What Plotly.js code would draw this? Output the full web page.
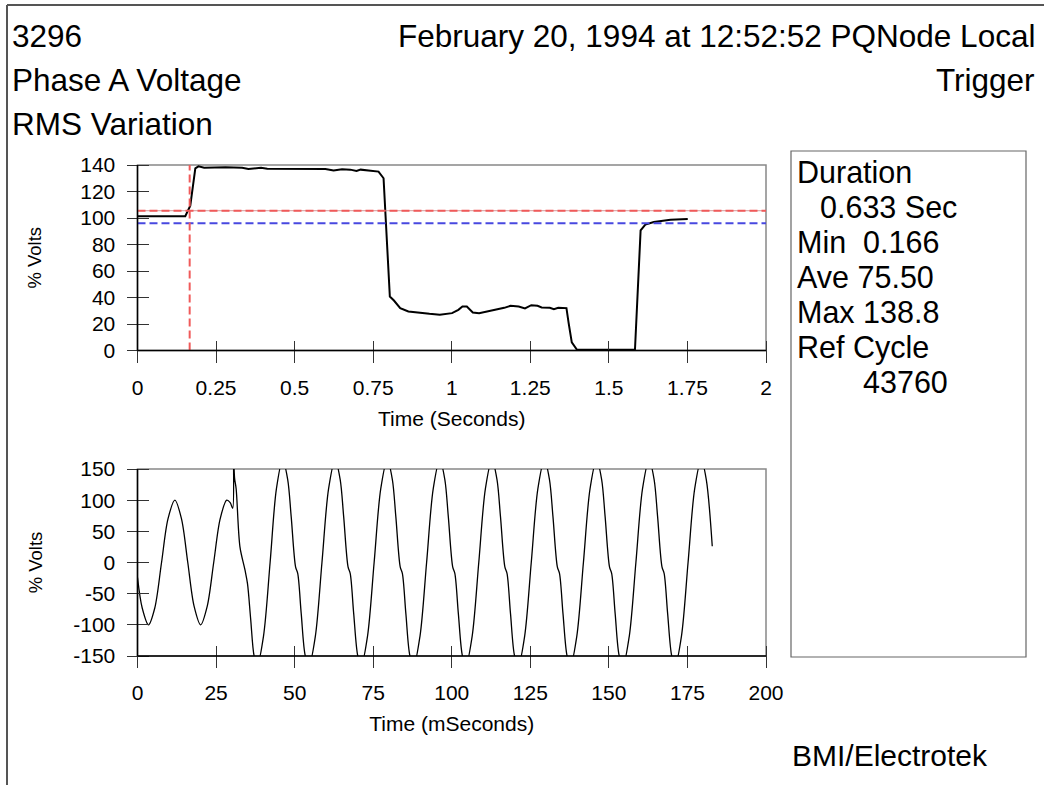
<!DOCTYPE html>
<html><head><meta charset="utf-8">
<script src="https://cdn.plot.ly/plotly-3.0.1.min.js"></script>
<style>html,body{margin:0;padding:0;background:#fff;}#chart{width:1044px;height:785px;}</style>
</head><body><div id="chart"></div>
<script>
// ---- data ----
const rmsTime = [0, 0.152, 0.168, 0.184, 0.194, 0.212, 0.28, 0.333, 0.353, 0.373, 0.393, 0.413, 0.505, 0.598, 0.624, 0.651, 0.677, 0.697, 0.71, 0.737, 0.767, 0.783, 0.803, 0.816, 0.836, 0.862, 0.902, 0.929, 0.962, 1.001, 1.021, 1.034, 1.048, 1.067, 1.087, 1.114, 1.14, 1.167, 1.187, 1.213, 1.233, 1.253, 1.273, 1.286, 1.312, 1.325, 1.339, 1.365, 1.372, 1.382, 1.398, 1.431, 1.583, 1.601, 1.616, 1.643, 1.696, 1.751];
const rmsVolts = [101.3, 101.3, 109.3, 137.5, 139, 138, 138.3, 138, 137, 137.5, 138, 137.2, 137.2, 137, 135.8, 136.8, 136.5, 135.5, 136.5, 136, 135, 130, 40.7, 37.7, 32, 29.5, 28.2, 27.7, 27, 28.2, 30.7, 33.2, 33.2, 28.7, 28.2, 29.5, 31.2, 32.2, 33.7, 33.2, 31.7, 34.2, 33.7, 32.5, 32.2, 31.2, 32.2, 32, 20.7, 6.2, 0.7, 0.5, 0.5, 90.6, 95, 97, 98.6, 99.3];

const waveTime = [0, 1.5, 3.5, 5.5, 7.65, 9.7, 11.9, 14.0, 16.0, 18.0, 20.1, 22.2, 24.25, 26.3, 28.4, 29.5, 30.3, 30.6, 30.9, 31.4, 32.6, 34.2, 35.0, 36.0, 37.1, 38.1,
  40.1, 42.2, 44.2, 46.2, 47.8, 48.9, 50.3, 51.0, 52.1, 53.4, 54.6,
  56.6, 58.7, 60.8, 62.9, 64.5, 65.6, 67.0, 67.7, 68.8, 70.1, 71.2,
  73.2, 75.3, 77.4, 79.5, 81.1, 82.2, 83.6, 84.3, 85.4, 86.7, 87.9,
  89.9, 92.0, 94.1, 96.2, 97.8, 98.9, 100.3, 101.0, 102.1, 103.4, 104.5,
  106.5, 108.6, 110.7, 112.8, 114.4, 115.5, 116.9, 117.6, 118.7, 120.0, 121.2,
  123.2, 125.3, 127.4, 129.5, 131.1, 132.2, 133.6, 134.3, 135.4, 136.7, 137.8,
  139.8, 141.9, 144.0, 146.1, 147.7, 148.8, 150.2, 150.9, 152.0, 153.3, 154.5,
  156.5, 158.6, 160.7, 162.8, 164.4, 165.5, 166.9, 167.6, 168.7, 170.0, 171.1,
  173.1, 175.2, 177.3, 179.4, 181.0, 182.9];
const waveVolts = [-24, -73, -100, -73, 0, 70, 100, 70, 0, -70, -100, -70, 0, 70, 100, 96, 87, 165, 135, 118, 25, -12, -34, -90, -150, -165,
  -118, 0, 118, 165, 133, 74, -7, -18, -82, -150, -165,
  -118, 0, 118, 165, 133, 74, -7, -18, -82, -150, -165,
  -118, 0, 118, 165, 133, 74, -7, -18, -82, -150, -165,
  -118, 0, 118, 165, 133, 74, -7, -18, -82, -150, -165,
  -118, 0, 118, 165, 133, 74, -7, -18, -82, -150, -165,
  -118, 0, 118, 165, 133, 74, -7, -18, -82, -150, -165,
  -118, 0, 118, 165, 133, 74, -7, -18, -82, -150, -165,
  -118, 0, 118, 165, 133, 74, -7, -18, -82, -150, -165,
  -118, 0, 118, 165, 133, 26];

const thresholdHigh = 105.5;
const thresholdLow = 96;
const triggerTime = 0.166;

const topXTicks = [0, 0.25, 0.5, 0.75, 1, 1.25, 1.5, 1.75, 2];
const topXLabels = ['0', '0.25', '0.5', '0.75', '1', '1.25', '1.5', '1.75', '2'];
const topYTicks = [0, 20, 40, 60, 80, 100, 120, 140];
const topYLabels = ['0', '20', '40', '60', '80', '100', '120', '140'];
const botXTicks = [0, 25, 50, 75, 100, 125, 150, 175, 200];
const botXLabels = ['0', '25', '50', '75', '100', '125', '150', '175', '200'];
const botYTicks = [-150, -100, -50, 0, 50, 100, 150];
const botYLabels = ['-150', '-100', '-50', '0', '50', '100', '150'];

const headerLeft = ['3296', 'Phase A Voltage', 'RMS Variation'];
const headerRight = ['February 20, 1994 at 12:52:52 PQNode Local', 'Trigger'];
const infoLines = ['Duration', '0.633 Sec', 'Min\u00a0\u00a00.166', 'Ave 75.50', 'Max 138.8', 'Ref Cycle', '43760'];
const footer = 'BMI/Electrotek';

// ---- layout helpers ----
const W = 1044, H = 785;
const px = v => v / W;
const py = v => 1 - v / H;
const FONT = '"Liberation Sans", Arial, Helvetica, sans-serif';
const TICK_HALF = 11;   // ticks cross the axis line, half of the length on each side

const xDom = [px(137.5), px(766)];
const topDom = [py(350.5), py(165)];
const botDom = [py(656), py(469)];

// axes are placed half a tick inside the plot so their outside ticks cross the frame line
function xAxis(extra, yDomain) {
  return Object.assign({
    showgrid: false, zeroline: false, showline: false,
    anchor: 'free', position: yDomain[0] + TICK_HALF / H,
    ticks: 'outside', ticklen: 2 * TICK_HALF, tickwidth: 1, tickcolor: '#333',
    tickfont: {family: FONT, size: 21, color: '#000'},
    tickmode: 'array', fixedrange: true, ticklabelstandoff: 7
  }, extra);
}
function yAxis(extra) {
  return Object.assign({
    showgrid: false, zeroline: false, showline: false,
    anchor: 'free', position: xDom[0] + TICK_HALF / W,
    ticks: 'outside', ticklen: 2 * TICK_HALF, tickwidth: 1, tickcolor: '#333',
    tickfont: {family: FONT, size: 21, color: '#000'},
    tickmode: 'array', fixedrange: true, ticklabelstandoff: 7
  }, extra);
}

const traces = [
  {x: rmsTime, y: rmsVolts, xaxis: 'x', yaxis: 'y', type: 'scatter', mode: 'lines',
   line: {color: '#000', width: 2}, hoverinfo: 'skip', showlegend: false},
  {x: waveTime, y: waveVolts, xaxis: 'x2', yaxis: 'y2', type: 'scatter', mode: 'lines',
   line: {color: '#000', width: 1.3, shape: 'spline', smoothing: 0.9}, hoverinfo: 'skip', showlegend: false}
];

const annotations = [];
const hdrY = [36, 80, 124];
headerLeft.forEach((t, i) => annotations.push({text: t, xref: 'paper', yref: 'paper', x: px(10), y: py(hdrY[i]),
  xanchor: 'left', yanchor: 'middle', showarrow: false, font: {family: FONT, size: 31.5, color: '#000'}}));
headerRight.forEach((t, i) => annotations.push({text: t, xref: 'paper', yref: 'paper', x: px(1037), y: py(hdrY[i]),
  xanchor: 'right', yanchor: 'middle', showarrow: false, font: {family: FONT, size: 31.5, color: '#000'}}));
const infoY = [172, 207, 242, 277, 312, 347, 382];
const infoX = [795, 818, 795, 795, 795, 795, 861];
infoLines.forEach((t, i) => annotations.push({text: t, xref: 'paper', yref: 'paper', x: px(infoX[i]), y: py(infoY[i]),
  xanchor: 'left', yanchor: 'middle', showarrow: false, font: {family: FONT, size: 30.5, color: '#000'}}));
annotations.push({text: footer, xref: 'paper', yref: 'paper', x: px(790), y: py(755),
  xanchor: 'left', yanchor: 'middle', showarrow: false, font: {family: FONT, size: 30, color: '#000'}});

function frame(xa, ya) {
  return [
    {type: 'rect', xref: xa + ' domain', yref: ya + ' domain', x0: 0, x1: 1, y0: 0, y1: 1, line: {color: '#888', width: 1.5}, layer: 'below'},
    {type: 'line', xref: xa + ' domain', yref: ya + ' domain', x0: 0, x1: 1, y0: 0, y1: 0, line: {color: '#000', width: 1.5}},
    {type: 'line', xref: xa + ' domain', yref: ya + ' domain', x0: 0, x1: 0, y0: 0, y1: 1, line: {color: '#000', width: 1.5}}
  ];
}

const shapes = [
  // outer frame (top and left edges)
  {type: 'line', xref: 'paper', yref: 'paper', x0: px(7), x1: 1.01, y0: py(5), y1: py(5), line: {color: '#555', width: 2}},
  {type: 'line', xref: 'paper', yref: 'paper', x0: px(7), x1: px(7), y0: py(5), y1: -0.01, line: {color: '#555', width: 2}},
  // info box
  {type: 'rect', xref: 'paper', yref: 'paper', x0: px(791), x1: px(1026), y0: py(657), y1: py(151), line: {color: '#666', width: 1.2}},
  // threshold lines
  {type: 'line', xref: 'x domain', yref: 'y', x0: 0, x1: 1, y0: thresholdHigh, y1: thresholdHigh, line: {color: '#c88080', width: 0.8}},
  {type: 'line', xref: 'x domain', yref: 'y', x0: 0, x1: 1, y0: thresholdHigh, y1: thresholdHigh, line: {color: '#f05a5a', width: 2, dash: '8px,4px'}},
  {type: 'line', xref: 'x domain', yref: 'y', x0: 0, x1: 1, y0: thresholdLow, y1: thresholdLow, line: {color: '#4848e0', width: 2, dash: '8px,4px'}},
  {type: 'line', xref: 'x', yref: 'y domain', x0: triggerTime, x1: triggerTime, y0: 0, y1: 1, line: {color: '#f05a5a', width: 2, dash: '8px,4px'}}
].concat(frame('x', 'y'), frame('x2', 'y2'));

const layout = {
  width: W, height: H, margin: {l: 0, r: 0, t: 0, b: 0},
  paper_bgcolor: '#fff', plot_bgcolor: '#fff', showlegend: false,
  font: {family: FONT, color: '#000'},
  xaxis: xAxis({domain: xDom, range: [0, 2], tickvals: topXTicks, ticktext: topXLabels,
    title: {text: 'Time (Seconds)', font: {family: FONT, size: 21}, standoff: 13}}, topDom),
  yaxis: yAxis({domain: topDom, range: [0, 140], tickvals: topYTicks, ticktext: topYLabels,
    title: {text: '% Volts', font: {family: FONT, size: 18.5}, standoff: 32}}),
  xaxis2: xAxis({domain: xDom, range: [0, 200], tickvals: botXTicks, ticktext: botXLabels,
    title: {text: 'Time (mSeconds)', font: {family: FONT, size: 21}, standoff: 13}}, botDom),
  yaxis2: yAxis({domain: botDom, range: [-150, 150], tickvals: botYTicks, ticktext: botYLabels,
    title: {text: '% Volts', font: {family: FONT, size: 18.5}, standoff: 24}}),
  shapes: shapes,
  annotations: annotations
};

Plotly.newPlot('chart', traces, layout, {staticPlot: true, displayModeBar: false});
</script></body></html>
